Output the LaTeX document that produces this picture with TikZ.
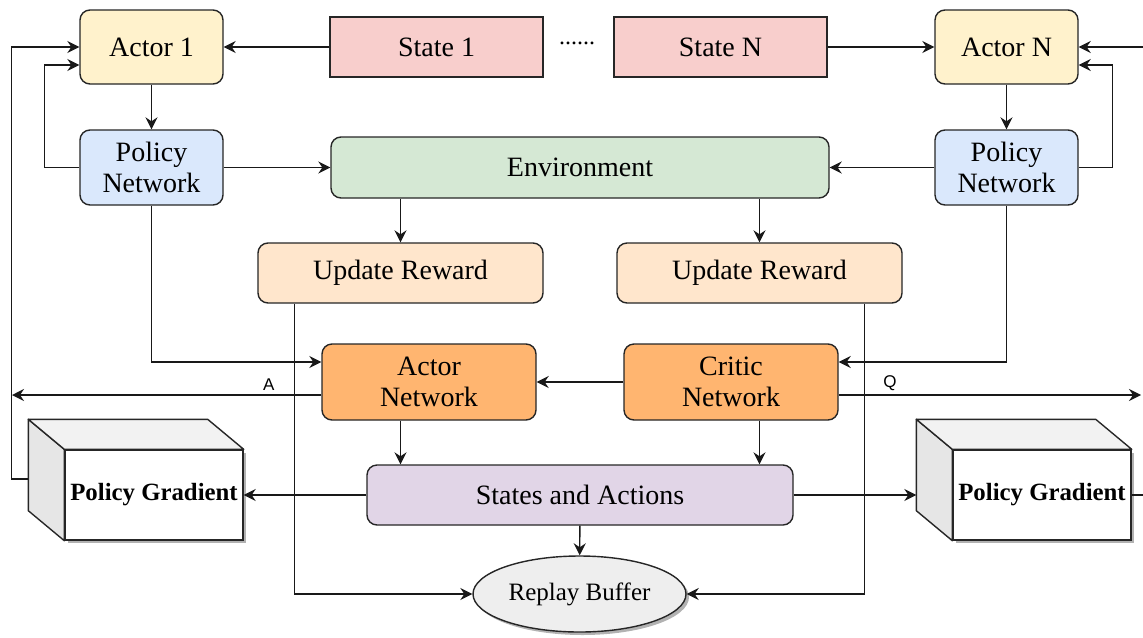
\documentclass[tikz,border=0pt]{standalone}
\usepackage{fontspec}
\setmainfont{Liberation Serif}
\newfontfamily\labelsans{Liberation Sans}
\usepackage{tikz}
\usetikzlibrary{arrows.meta,positioning,shapes.geometric,calc,shadows,backgrounds}
\usepackage{xcolor}
\definecolor{actorcol}{HTML}{FFF2CC}
\definecolor{statecol}{HTML}{F8CECC}
\definecolor{policycol}{HTML}{DAE8FC}
\definecolor{envcol}{HTML}{D5E8D4}
\definecolor{rewardcol}{HTML}{FFE6CC}
\definecolor{netcol}{HTML}{FFB570}
\definecolor{sacol}{HTML}{E1D5E7}
\definecolor{buffercol}{HTML}{EEEEEE}
\definecolor{sidecol}{HTML}{E6E6E6}
\definecolor{topcol}{HTML}{F2F2F2}
\tikzset{
  blk/.style={rounded corners=5pt,draw=black!85,line width=.7pt,align=center,
              inner sep=0pt},
  actor/.style={blk,fill=actorcol,minimum width=71.5pt,minimum height=37pt,
                font=\fontsize{14}{15.5}\selectfont},
  statebox/.style={draw=black!85,line width=.7pt,fill=statecol,minimum width=106.5pt,
                minimum height=30pt,font=\fontsize{14}{15.5}\selectfont},
  policy/.style={blk,fill=policycol,minimum width=71.5pt,minimum height=37.5pt,
                 font=\fontsize{14}{15.5}\selectfont},
  envbox/.style={blk,fill=envcol,minimum width=249pt,minimum height=30.5pt,
                 font=\fontsize{14}{16}\selectfont},
  reward/.style={blk,fill=rewardcol,minimum width=142.5pt,minimum height=30pt,
                 font=\fontsize{14}{16}\selectfont},
  net/.style={blk,fill=netcol,minimum width=107pt,minimum height=38pt,
              font=\fontsize{14}{15.5}\selectfont},
  sabox/.style={blk,fill=sacol,minimum width=213pt,minimum height=30pt,
                font=\fontsize{14}{16}\selectfont},
  buffer/.style={ellipse,draw=black!85,line width=.7pt,fill=buffercol,inner sep=0pt,
                 minimum width=106.5pt,minimum height=38pt,
                 font=\fontsize{12.5}{14}\selectfont,
                 drop shadow={shadow xshift=1.5pt,shadow yshift=-1.5pt,
                              fill=black,opacity=.3}},
  front/.style={draw=black!85,line width=.7pt,fill=white,minimum width=89pt,
                minimum height=45pt,inner sep=0pt,
                font=\fontsize{12.4}{14}\selectfont\bfseries,
                drop shadow={shadow xshift=1.5pt,shadow yshift=-1.5pt,
                             fill=black,opacity=.3}},
  face/.style={draw=black!85,line width=.7pt,line join=round},
  flow/.style={-{Stealth[length=6pt,width=6pt,inset=2pt]},draw=black!90,line width=.7pt},
  tag/.style={font=\labelsans\fontsize{8.5}{10}\selectfont,inner sep=2pt},
}

\begin{document}
\begin{tikzpicture}[x=0.5pt,y=-0.5pt]
  \useasboundingbox (0,0) rectangle (1143,637);
  % top row
  \node[actor] (act1) at (151.5,47) {Actor 1};
  \node[statebox] (st1) at (436.5,47) {State 1};
  \node[font=\fontsize{12}{14}\selectfont] (dots) at (577,43) {......};
  \node[statebox] (stN) at (720.5,47) {State N};
  \node[actor] (actN) at (1006.5,47) {Actor N};
  % policies and environment
  \node[policy] (pol1) at (151.5,167.5) {Policy\\Network};
  \node[envbox] (env) at (580,167.5) {Environment};
  \node[policy] (polN) at (1006.5,167.5) {Policy\\Network};
  \node[reward] (rew1) at (400.5,273) {Update Reward};
  \node[reward] (rewN) at (759.5,273) {Update Reward};
  % networks
  \node[net] (actnet) at (429,382) {Actor\\Network};
  \node[net] (crit) at (731,382) {Critic\\Network};
  \node[sabox] (sa) at (580,495) {States and Actions};
  \node[buffer] (buf) at (579.5,594) {Replay Buffer};
  % policy gradient cubes
  \node[front] (pgl) at (154,495) {Policy Gradient};
  \node[front] (pgr) at (1042,495) {Policy Gradient};
  \begin{scope}[on background layer]
    \foreach \c in {pgl,pgr}{
      \draw[face,fill=sidecol] (\c.north west) -- (\c.south west) -- ++(-36,-30)
        -- ($(\c.north west)+(-36,-30)$) -- cycle;
      \draw[face,fill=topcol] (\c.north west) -- (\c.north east) -- ++(-36,-30)
        -- ($(\c.north west)+(-36,-30)$) -- cycle;
    }
  \end{scope}
  \coordinate (pglin) at ($(pgl.west)+(-36,-16)$);
  \coordinate (pgrin) at ($(pgr.west)+(-36,0)$);
  \coordinate (aout) at (12,395);
  \coordinate (qout) at (1141,395);
  % connectors
  \draw[flow] (st1) -- (act1);
  \draw[flow] (stN) -- (actN);
  \draw[flow] (act1) -- (pol1);
  \draw[flow] (actN) -- (polN);
  \draw[flow] (pol1.west) -- ++(-35,0) |- ($(act1.west)+(0,18)$);
  \draw[flow] (polN.east) -- ++(34,0) |- ($(actN.east)+(0,18)$);
  \draw[flow] (pol1) -- (env);
  \draw[flow] (polN) -- (env);
  \draw[flow] (env.south -| rew1) -- (rew1);
  \draw[flow] (env.south -| rewN) -- (rewN);
  \draw[flow] (pol1) |- ($(actnet.west)+(0,-20)$);
  \draw[flow] (polN) |- ($(crit.east)+(0,-20)$);
  \draw[flow] (crit) -- (actnet);
  \draw[flow] ($(actnet.west)+(0,13)$) -- node[tag,above,pos=.17] {A} (aout);
  \draw[flow] ($(crit.east)+(0,13)$) -- node[tag,above,pos=.17] {Q} (qout);
  \draw[flow] (actnet.south -| rew1) -- (sa.north -| rew1);
  \draw[flow] (crit.south -| rewN) -- (sa.north -| rewN);
  \draw[flow] (sa) -- (pgl);
  \draw[flow] (sa) -- (pgrin);
  \draw[flow] (sa) -- (buf);
  \draw[flow] ($(rew1.south west)+(37,0)$) |- (buf.west);
  \draw[flow] ($(rewN.south east)+(-38,0)$) |- (buf.east);
  \draw[flow] (pglin) -- ++(-17,0) |- (act1.west);
  \draw[flow] (pgr.east) -- ++(14,0) |- (actN.east);
\end{tikzpicture}
\end{document}
